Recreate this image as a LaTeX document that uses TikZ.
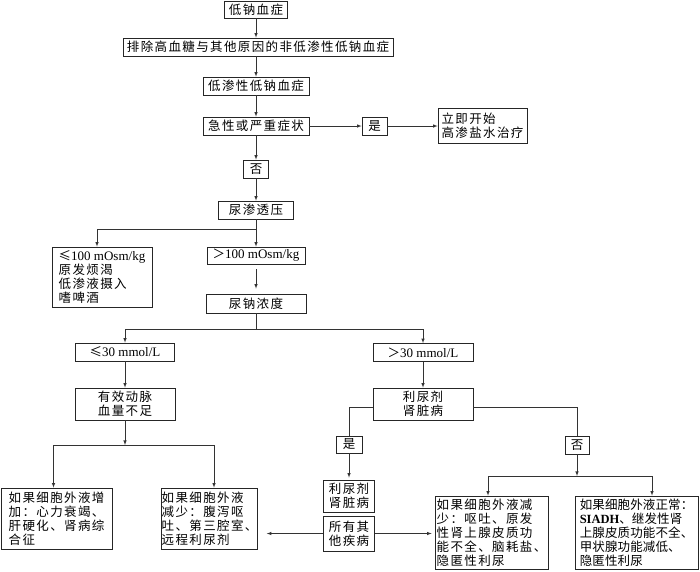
\documentclass[tikz,border=0pt]{standalone}
\usepackage{fontspec}
\setmainfont{Liberation Serif}
\newfontfamily\cjk[LetterSpace=11]{Noto Sans CJK SC}
\newfontfamily\cjkt[LetterSpace=1]{Noto Sans CJK SC}
\newfontfamily\lat{Liberation Serif}
\begin{document}
\begin{tikzpicture}[x=1pt,y=-1pt,
        box/.style={draw=black!85, line width=0.8pt, inner sep=0pt, align=center,
            font=\cjk\fontsize{12.5}{14}\selectfont},
        lbox/.style={box, align=left},
        wh/.style 2 args={minimum width=#1, minimum height=#2},
        link/.style={draw=black!80, line width=0.6pt},
        to/.style={link, -latex}]
    \useasboundingbox (0,0) rectangle (700,571);
    \node[box, wh={63pt}{17pt}] (hypo) at (256,9.5) {低钠血症};
    \node[box, wh={270pt}{18pt}] (excl) at (258,47) {排除高血糖与其他原因的非低渗性低钠血症};
    \node[box, wh={106pt}{18pt}] (hyos) at (256,86) {低渗性低钠血症};
    \node[box, wh={106pt}{18pt}] (acut) at (256,126) {急性或严重症状};
    \node[box, wh={25pt}{18pt}] (yes1) at (374.5,126) {是};
    \node[lbox, wh={89pt}{35pt}] (treat) at (482.5,126) {立即开始\\高渗盐水治疗};
    \node[box, wh={25pt}{18pt}] (no1) at (256,169) {否};
    \node[box, wh={75pt}{18pt}] (uosm) at (256,210) {尿渗透压};
    \node[lbox, wh={100pt}{60pt}] (lo100) at (102,277) {≤{\lat\fontsize{13}{14}\selectfont 100 mOsm/kg}\\原发烦渴\\低渗液摄入\\嗜啤酒};
    \node[box, wh={98pt}{17pt}] (hi100) at (256,255.5) {＞{\lat\fontsize{13}{14}\selectfont 100 mOsm/kg}};
    \node[box, wh={100pt}{19pt}] (una) at (256,303.5) {尿钠浓度};
    \node[box, wh={99pt}{18pt}] (lo30) at (125,352) {≤{\lat\fontsize{13}{14}\selectfont 30 mmol/L}};
    \node[box, wh={100pt}{18pt}] (hi30) at (423,352.5) {＞{\lat\fontsize{13}{14}\selectfont 30 mmol/L}};
    \node[box, wh={100pt}{32pt}] (eff) at (125,404) {有效动脉\\血量不足};
    \node[box, wh={100pt}{32pt}] (diur) at (423,404) {利尿剂\\肾脏病};
    \node[lbox, wh={111pt}{61pt}] (ecfi) at (56.5,518.5) {如果细胞外液增\\加：心力衰竭、\\肝硬化、肾病综\\合征};
    \node[lbox, wh={95pt}{61pt}] (ecfd) at (209.5,518.5) {如果细胞外液\\减少：腹泻呕\\吐、第三腔室、\\远程利尿剂};
    \node[box, wh={26pt}{17pt}] (yes2) at (349,444.5) {是};
    \node[box, wh={51pt}{32pt}] (diur2) at (349,496) {利尿剂\\肾脏病};
    \node[box, wh={51pt}{35pt}] (other) at (349,533.5) {所有其\\他疾病};
    \node[box, wh={24pt}{18pt}] (no2) at (577,445) {否};
    \node[lbox, wh={113pt}{73pt}] (ecfd2) at (491.5,532.5) {如果细胞外液减\\少：呕吐、原发\\性肾上腺皮质功\\能不全、脑耗盐、\\隐匿性利尿};
    \node[lbox, wh={123pt}{73pt}, font=\cjkt\fontsize{12.5}{14}\selectfont] (ecfn) at (636.5,532.5) {如果细胞外液正常：\\{\lat\bfseries SIADH}、继发性肾\\上腺皮质功能不全、\\甲状腺功能减低、\\隐匿性利尿};
    \coordinate (b1) at (256,229);
    \coordinate (b2) at (256,329);
    \coordinate (b3) at (125,445);
    \coordinate (b4) at (577,476);
    \draw[to] (hypo) -- (hypo |- excl.north);
    \draw[to] (hypo |- excl.south) -- (hyos);
    \draw[to] (hyos) -- (acut);
    \draw[to] (acut) -- (yes1);
    \draw[to] (yes1) -- (treat);
    \draw[to] (acut) -- (no1);
    \draw[to] (no1) -- (uosm);
    \draw[to] (uosm) -- (hi100);
    \draw[to] (b1) -| ([xshift=-5pt]lo100.north);
    \draw[to, shorten <=5pt, shorten >=5pt] (hi100) -- (una);
    \draw[link] (una) -- (b2);
    \draw[to] (b2) -| (lo30);
    \draw[to] (b2) -| (hi30);
    \draw[to] (lo30) -- (eff);
    \draw[to] (hi30) -- (diur);
    \draw[to] (eff) -- (b3);
    \draw[to] (b3) -| ([xshift=-3pt]ecfi.north);
    \draw[to] (b3) -| ([xshift=4.5pt]ecfd.north);
    \draw[link] ([yshift=-3pt]diur.west) -| (yes2);
    \draw[to, shorten >=2pt] (yes2) -- (diur2);
    \draw[link] ([yshift=-3pt]diur.east) -| (no2);
    \draw[to] (no2) -- (b4);
    \draw[to] (b4) -| ([xshift=-3.5pt]ecfd2.north);
    \draw[to] (b4) -| ([xshift=15.5pt]ecfn.north);
    \draw[to, shorten >=9pt] (other.west) -- (other.west -| ecfd.east);
    \draw[to, shorten >=3pt] (other.east) -- (other.east -| ecfd2.west);
\end{tikzpicture}
\end{document}
